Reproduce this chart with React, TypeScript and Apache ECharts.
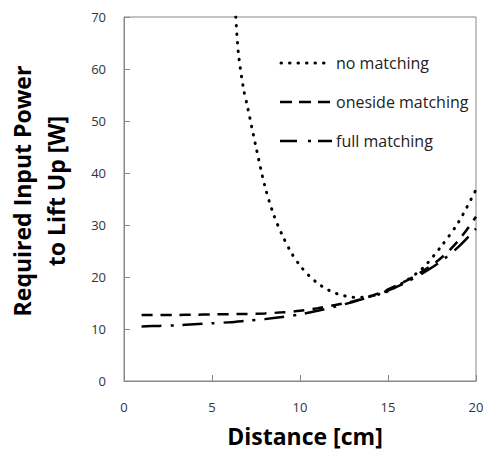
import React, { useEffect, useRef } from "react";
import * as echarts from "echarts";

// Distance [cm] for the matched curves
const distance = [1, 2, 3, 4, 5, 6, 7, 8, 9, 10, 11, 12, 13, 14, 15, 16, 17, 18, 19, 20];
// Required input power [W]
const onesideMatching = [12.7, 12.7, 12.7, 12.75, 12.8, 12.85, 12.9, 13.0, 13.2, 13.5, 14.0, 14.6, 15.3, 16.3, 17.6, 19.2, 21.2, 23.6, 27.0, 31.6];
const fullMatching = [10.5, 10.6, 10.7, 10.9, 11.1, 11.3, 11.6, 11.9, 12.3, 12.8, 13.5, 14.3, 15.2, 16.2, 17.4, 18.9, 20.8, 23.0, 25.8, 29.3];
// "no matching" curve
const noMatchDistance = [6.35, 6.5, 6.8, 7, 7.5, 8, 8.5, 9, 9.5, 10, 10.5, 11, 11.5, 12, 12.5, 13, 13.5, 14, 14.5, 15, 16, 17, 18, 19, 20];
const noMatching = [70, 63, 56, 53, 45, 37.5, 32, 28, 24.7, 22.2, 20.3, 18.8, 17.7, 16.9, 16.4, 16.1, 16.1, 16.3, 16.7, 17.3, 19.2, 21.8, 25.8, 30.5, 36.8];

const legendNames = ["no matching", "oneside matching", "full matching"];

const FONT = "'Open Sans', 'Noto Sans', sans-serif";

export default function App() {
  const ref = useRef<HTMLDivElement>(null);
  useEffect(() => {
    document.body.style.margin = "0";
    const chart = echarts.init(ref.current!, null, { renderer: "svg" });
    const pair = (xs: number[], ys: number[]) => xs.map((x, i) => [x, ys[i]]);
    const legendY = [63, 102, 141];
    const dashes = [[0.5, 8], [12, 7], [17, 11, 3, 7]];
    const widths = [3, 2.5, 2.5];
    const caps = ["round", "butt", "butt"];
    const graphic: any[] = [];
    legendNames.forEach((n, i) => {
      graphic.push({
        type: "line",
        shape: { x1: i === 0 ? 281 : 280, y1: legendY[i], x2: i === 0 ? 327 : 332, y2: legendY[i] },
        style: { stroke: "#000", lineWidth: widths[i], lineDash: dashes[i], lineCap: caps[i] },
        silent: true,
      });
      graphic.push({
        type: "text",
        x: 336,
        y: legendY[i],
        style: { text: n, fill: "#222", font: `16px ${FONT}`, verticalAlign: "middle", align: "left" },
        silent: true,
      });
    });
    chart.setOption({
      animation: false,
      backgroundColor: "#fff",
      grid: {
        left: 124, right: 13, top: 17, bottom: 69,
        outerBoundsMode: "none",
        containLabel: false,
        show: true, borderColor: "#888", borderWidth: 1,
      },
      xAxis: {
        type: "value",
        min: 0,
        max: 20,
        interval: 5,
        name: "Distance [cm]",
        nameLocation: "middle",
        nameGap: 43,
        nameTextStyle: { fontFamily: FONT, fontSize: 23, fontWeight: "bold", color: "#000", lineHeight: 23, padding: [0, 0, 0, 10] },
        axisLine: { show: true, lineStyle: { color: "#888", width: 1 } },
        axisTick: { show: true, inside: true, length: 6, lineStyle: { color: "#888" } },
        axisLabel: { margin: 19, fontFamily: FONT, fontSize: 13, color: "#333" },
        splitLine: { show: false },
      },
      yAxis: {
        type: "value",
        min: 0,
        max: 70,
        interval: 10,
        name: "Required Input Power\nto Lift Up [W]",
        nameLocation: "middle",
        nameGap: 51,
        nameTextStyle: { fontFamily: FONT, fontSize: 23, fontWeight: "bold", color: "#000", lineHeight: 34, padding: [0, 0, 0, 16] },
        axisLine: { show: true, lineStyle: { color: "#888", width: 1 } },
        axisTick: { show: true, inside: true, length: 6, lineStyle: { color: "#888" } },
        axisLabel: { margin: 18, fontFamily: FONT, fontSize: 13, color: "#333" },
        splitLine: { show: false },
      },
      series: [
        {
          name: legendNames[0],
          type: "line",
          data: pair(noMatchDistance, noMatching),
          symbol: "none",
          smooth: 0.3,
          lineStyle: { color: "#000", width: 3, type: [0.5, 8], cap: "round" },
        },
        {
          name: legendNames[1],
          type: "line",
          data: pair(distance, onesideMatching),
          symbol: "none",
          smooth: 0.3,
          lineStyle: { color: "#000", width: 2.5, type: [11, 8] },
        },
        {
          name: legendNames[2],
          type: "line",
          data: pair(distance, fullMatching),
          symbol: "none",
          smooth: 0.3,
          lineStyle: { color: "#000", width: 2.5, type: [20, 9, 3, 9] },
        },
      ],
      graphic,
    });
    return () => chart.dispose();
  }, []);
  return <div ref={ref} style={{ width: 489, height: 450 }} />;
}
